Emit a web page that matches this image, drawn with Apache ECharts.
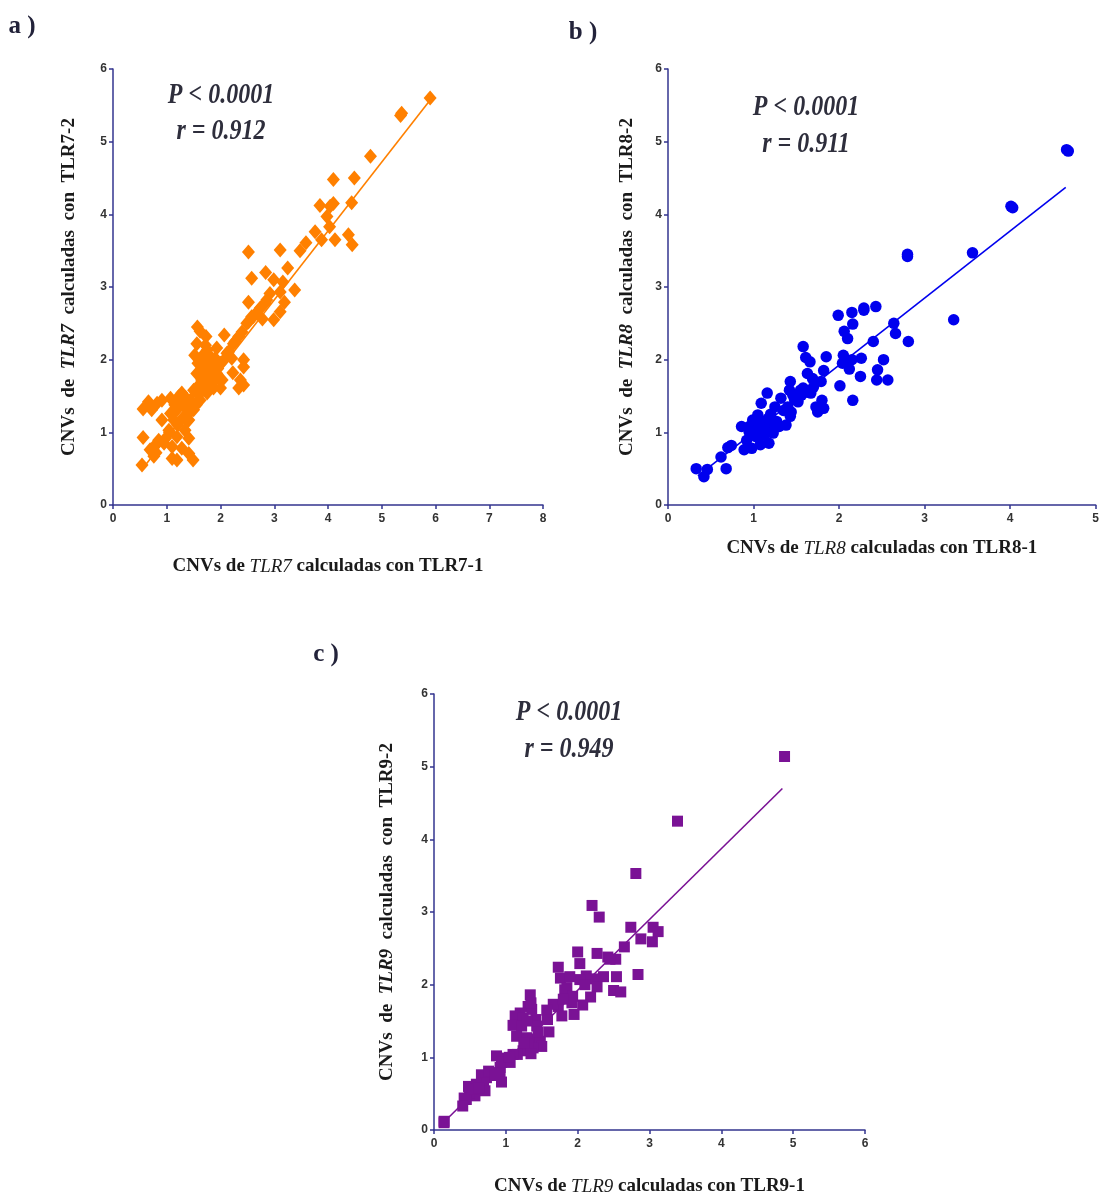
<!DOCTYPE html>
<html>
  <head>
    <meta charset="UTF-8">
    <script src="https://cdn.jsdelivr.net/npm/echarts@6/dist/echarts.min.js"></script>
    <title>CNVs TLR7 TLR8 TLR9</title>
  </head>
  <body style="margin:0;background:#fff">
    <div id="main" style="width:1102px;height:1197px;"></div>
    <script type="text/javascript">
      // puntos: [calculadas con -1, calculadas con -2]
      var tlr7Points = [
        [5.90,5.60],[5.37,5.39],[5.35,5.36],[4.79,4.80],[4.10,4.48],[4.49,4.50],[3.85,4.12],[4.04,4.11],
        [4.10,4.15],[4.44,4.16],[3.98,3.97],[4.03,3.83],[3.76,3.76],[3.88,3.65],[4.13,3.65],[4.38,3.72],
        [4.45,3.58],[3.59,3.61],[3.48,3.50],[3.11,3.51],[2.52,3.48],[2.58,3.12],[3.25,3.26],[2.84,3.20],
        [2.99,3.10],[3.16,3.07],[3.11,2.93],[3.38,2.96],[3.19,2.79],[3.11,2.66],[2.99,2.55],[2.78,2.56],
        [2.83,2.78],[2.71,2.68],[2.52,2.79],[2.58,2.59],[2.52,2.52],[2.34,2.32],[2.24,2.22],[2.07,2.34],
        [1.57,2.45],[1.62,2.39],[1.73,2.32],[1.56,2.22],[1.52,2.06],[1.75,2.13],[1.93,2.16],[2.12,2.09],
        [2.21,2.02],[2.43,2.00],[2.43,1.90],[2.23,1.82],[2.37,1.72],[2.34,1.61],[2.43,1.65],[1.56,1.81],
        [1.65,1.72],[1.81,1.90],[1.93,1.81],[1.87,1.61],[2.00,1.61],[1.75,1.54],[1.59,1.51],[1.50,1.58],
        [1.44,1.44],[1.34,1.35],[1.25,1.40],[1.19,1.31],[1.13,1.17],[1.22,1.49],[1.07,1.47],[0.91,1.44],
        [0.82,1.40],[0.66,1.42],[0.56,1.32],[0.72,1.31],[0.91,1.17],[1.07,1.26],[1.50,1.31],[1.41,1.17],
        [1.34,1.03],[1.41,0.92],[1.19,0.94],[1.10,0.80],[0.56,0.93],[0.76,0.80],[0.85,0.89],[1.04,1.03],
        [0.98,0.92],[1.28,0.78],[1.41,0.71],[1.49,0.62],[1.19,0.62],[1.10,0.64],[0.76,0.67],[0.69,0.76],
        [0.54,0.55],[1.41,1.26],[1.28,1.54],[1.62,1.44],[1.68,1.72],[1.75,1.81],[1.87,1.97],[2.00,1.95],
        [2.03,1.72],[1.90,1.72],[2.15,2.11],[2.27,2.25],[2.40,2.38],[2.49,2.50],[2.61,2.59],[2.74,2.71],
        [2.86,2.82],[2.92,2.91],[1.70,1.95],[1.80,2.05],[1.65,1.85],[1.85,1.75],[1.95,1.88],[1.60,1.65],
        [1.70,1.60],[2.05,1.98],[1.55,1.38],[1.45,1.30],[1.30,1.20],[1.20,1.10],[1.05,1.00],[0.95,0.85],
        [0.80,0.72],[1.72,2.20],[1.78,1.68],[1.82,1.80],[1.66,2.05],[1.90,2.02],[1.62,1.58],[1.58,1.95],
        [1.98,1.75],[1.35,1.48],[1.15,1.38],[1.38,1.15]
      ];
      var tlr8Points = [
        [4.66,4.89],[4.68,4.87],[4.01,4.11],[4.03,4.09],[3.56,3.47],[2.80,3.45],[2.80,3.42],[3.34,2.55],
        [2.81,2.25],[2.64,2.50],[2.66,2.36],[2.43,2.73],[2.29,2.71],[2.29,2.68],[2.15,2.65],[2.16,2.49],
        [1.99,2.61],[2.06,2.39],[2.10,2.29],[2.40,2.25],[1.58,2.18],[1.61,2.03],[1.66,1.97],[1.85,2.04],
        [2.05,2.06],[2.04,1.95],[2.15,2.00],[2.26,2.02],[2.52,2.00],[2.12,1.87],[2.25,1.77],[2.45,1.86],
        [2.44,1.72],[2.57,1.72],[2.01,1.64],[2.16,1.44],[1.82,1.85],[1.79,1.70],[1.63,1.81],[1.69,1.74],
        [1.43,1.70],[1.42,1.58],[1.46,1.51],[1.58,1.61],[1.67,1.54],[1.56,1.51],[1.52,1.42],[1.80,1.44],
        [1.73,1.35],[1.75,1.28],[1.82,1.33],[1.32,1.47],[1.16,1.54],[1.09,1.40],[1.25,1.35],[1.44,1.28],
        [1.43,1.22],[1.38,1.10],[1.30,1.08],[1.17,1.19],[1.05,1.24],[0.99,1.17],[0.95,1.08],[0.86,1.08],
        [1.01,1.03],[1.11,0.99],[1.19,1.10],[1.27,1.15],[1.18,0.85],[1.08,0.83],[0.98,0.78],[0.89,0.76],
        [0.92,0.89],[0.74,0.82],[0.70,0.79],[0.62,0.66],[0.68,0.50],[0.46,0.49],[0.42,0.39],[0.33,0.50],
        [1.13,0.96],[1.23,0.99],[1.03,0.94],[1.10,1.15],[1.15,1.05],[1.20,1.25],[1.06,1.12],[1.35,1.30],
        [1.48,1.45],[1.60,1.55],[1.70,1.62],[0.95,1.00],[1.25,1.10],[1.40,1.35],[1.55,1.58]
      ];
      var tlr9Points = [
        [4.88,5.14],[3.39,4.25],[2.81,3.53],[2.20,3.09],[2.30,2.93],[2.74,2.79],[3.05,2.79],[3.12,2.73],
        [3.04,2.59],[2.88,2.63],[2.65,2.52],[2.42,2.38],[2.53,2.35],[2.27,2.43],[2.00,2.45],[2.03,2.29],
        [2.84,2.14],[2.54,2.11],[2.36,2.11],[2.12,2.12],[2.03,2.07],[2.22,2.08],[2.27,1.97],[2.18,1.83],
        [2.07,1.72],[1.95,1.59],[2.50,1.92],[2.60,1.90],[1.73,2.24],[1.76,2.09],[1.89,2.11],[1.85,1.96],
        [1.82,1.93],[1.93,1.84],[1.92,1.75],[1.73,1.70],[1.78,1.57],[1.66,1.73],[1.57,1.65],[1.58,1.52],
        [1.60,1.35],[1.34,1.86],[1.31,1.70],[1.36,1.66],[1.20,1.61],[1.13,1.57],[1.10,1.44],[1.24,1.54],
        [1.42,1.52],[1.43,1.43],[1.22,1.43],[1.15,1.29],[1.29,1.27],[1.38,1.25],[1.48,1.22],[1.50,1.15],
        [1.38,1.13],[1.31,1.18],[1.24,1.09],[1.16,1.04],[1.10,1.04],[1.00,0.99],[0.87,1.02],[1.06,0.93],
        [0.94,0.93],[0.92,0.86],[0.92,0.79],[0.94,0.66],[0.80,0.79],[0.73,0.72],[0.66,0.76],[0.76,0.81],
        [0.69,0.65],[0.71,0.54],[0.59,0.63],[0.57,0.47],[0.48,0.60],[0.49,0.51],[0.45,0.42],[0.42,0.44],
        [0.40,0.33],[0.55,0.56],[0.14,0.12],[0.14,0.10],[1.35,1.75],[1.30,1.50],[1.45,1.35],[1.25,1.20],
        [1.35,1.05],[1.05,1.00],[0.85,0.75],[0.62,0.58],[1.80,1.80],[2.10,2.00],[2.45,2.35]
      ];
      // recta de regresion (extremos)
      var tlr7Fit = [[0.55,0.50],[5.93,5.60]];
      var tlr8Fit = [[0.35,0.40],[4.65,4.37]];
      var tlr9Fit = [[0.15,0.12],[4.85,4.70]];
      var xMax = [8, 5, 6];
      var yMax = 6;
      var stats = [['P < 0.0001', 'r = 0.912'], ['P < 0.0001', 'r = 0.911'], ['P < 0.0001', 'r = 0.949']];
      var genes = ['TLR7', 'TLR8', 'TLR9'];

      var axisColor = '#33358f';
      var grids = [
        {left: 113, top: 69, width: 430, height: 436},
        {left: 668, top: 69, width: 430, height: 436},
        {left: 434, top: 694, width: 431, height: 437}
      ];
      var xGap = [52, 34, 47];
      var yGap = [34, 31, 37];

      var serif = '"Liberation Serif", "DejaVu Serif", serif';

      function xName(g) {
        return '{n|CNVs de }{i|' + g + '}{n| calculadas con ' + g + '-1}';
      }
      function yName(g) {
        return '{n|CNVs  de  }{i|' + g + '}{n|  calculadas  con  ' + g + '-2}';
      }

      var xAxes = [], yAxes = [];
      for (var i = 0; i < 3; i++) {
        var label = {fontFamily: 'Liberation Sans, Arial', fontWeight: 'bold', fontSize: 12, color: '#333333'};
        xAxes.push({
          gridIndex: i, type: 'value', min: 0, max: xMax[i], interval: 1,
          axisLine: {lineStyle: {color: axisColor, width: 1.5}},
          axisTick: {length: 4, lineStyle: {color: axisColor, width: 1.5}},
          axisLabel: Object.assign({margin: 8}, label),
          splitLine: {show: false},
          name: xName(genes[i]), nameLocation: 'middle', nameGap: xGap[i],
          nameTextStyle: {
            rich: {
              n: {fontFamily: serif, fontSize: 19, color: '#1a1a1a', fontWeight: 'bold'},
              i: {fontFamily: serif, fontSize: 19, color: '#1a1a1a', fontStyle: 'italic'}
            }
          }
        });
        yAxes.push({
          gridIndex: i, type: 'value', min: 0, max: yMax, interval: 1,
          axisLine: {lineStyle: {color: axisColor, width: 1.5}},
          axisTick: {length: 4, lineStyle: {color: axisColor, width: 1.5}},
          axisLabel: Object.assign({margin: 6}, label),
          splitLine: {show: false},
          name: yName(genes[i]), nameLocation: 'middle', nameGap: yGap[i], nameRotate: 90,
          nameTextStyle: {
            rich: {
              n: {fontFamily: serif, fontSize: 19, color: '#1a1a1a', fontWeight: 'bold'},
              i: {fontFamily: serif, fontSize: 19, color: '#1a1a1a', fontStyle: 'italic', fontWeight: 'bold'}
            }
          }
        });
      }

      var colors = ['#ff8000', '#0000ee', '#7a1295'];
      var symbols = ['diamond', 'circle', 'rect'];
      var sizes = [[13, 15], 11.5, 11];
      var allPoints = [tlr7Points, tlr8Points, tlr9Points];
      var fits = [tlr7Fit, tlr8Fit, tlr9Fit];

      var series = [];
      for (var k = 0; k < 3; k++) {
        series.push({
          type: 'line', xAxisIndex: k, yAxisIndex: k, data: fits[k],
          symbol: 'none', silent: true, animation: false, z: 1,
          lineStyle: {color: colors[k], width: 1.6}
        });
        series.push({
          type: 'scatter', xAxisIndex: k, yAxisIndex: k, data: allPoints[k],
          symbol: symbols[k], symbolSize: sizes[k], animation: false, z: 2,
          itemStyle: {color: colors[k], opacity: 1}
        });
      }

      var statPos = [[221, 95, 131], [806, 107, 144], [569, 712, 749]];
      var panelLabels = [['a )', 22, 27], ['b )', 583, 33], ['c )', 326, 655]];
      var graphics = [];
      for (var s = 0; s < 3; s++) {
        for (var l = 0; l < 2; l++) {
          graphics.push({
            type: 'text', x: statPos[s][0], y: statPos[s][l + 1], scaleX: 0.8,
            style: {
              text: stats[s][l], fill: '#2e2e3c', align: 'center', verticalAlign: 'middle',
              font: 'italic bold 30px ' + serif
            }
          });
        }
        graphics.push({
          type: 'text', x: panelLabels[s][1], y: panelLabels[s][2],
          style: {
            text: panelLabels[s][0], fill: '#23233a', align: 'center', verticalAlign: 'middle',
            font: 'bold 25px ' + serif
          }
        });
      }

      var myChart = echarts.init(document.getElementById('main'));
      myChart.setOption({
        backgroundColor: '#ffffff',
        animation: false,
        grid: grids,
        xAxis: xAxes,
        yAxis: yAxes,
        series: series,
        graphic: graphics
      });
    </script>
  </body>
</html>
